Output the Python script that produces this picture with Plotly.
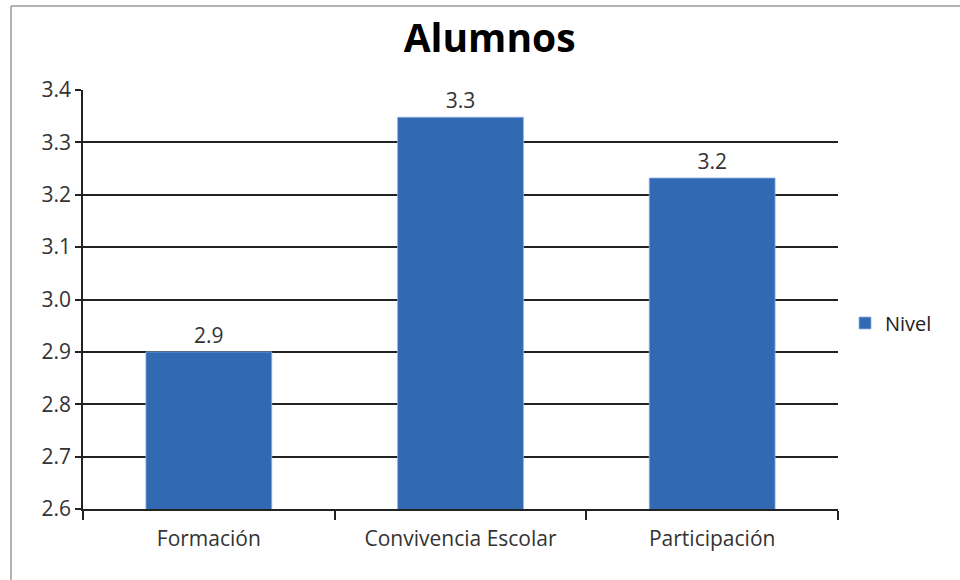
import plotly.graph_objects as go

categories = ["Formación", "Convivencia Escolar", "Participación"]
values = [2.9, 3.348, 3.232]
series_name = "Nivel"
title_text = "Alumnos"
y_ticks = [2.6, 2.7, 2.8, 2.9, 3.0, 3.1, 3.2, 3.3, 3.4]

L, R, T, B = 83, 838, 90, 509
W, H = 960, 580
FONT = "Open Sans, sans-serif"

fig = go.Figure()
fig.add_trace(go.Bar(
    x=categories, y=values, name=series_name,
    marker=dict(color="#3269b3", line=dict(color="#8fb3e6", width=0.8)),
    texttemplate="%{y:.1f}", textposition="outside", cliponaxis=False,
    textfont=dict(family=FONT, size=21, color="#333333"),
    showlegend=True,
))

def px2paper_x(px):
    return (px - L) / (R - L)

def px2paper_y(py):
    return (B - py) / (B - T)

# outer frame: only left and top edges visible in the view
fig.add_shape(type="line", xref="paper", yref="paper",
              x0=px2paper_x(11), x1=px2paper_x(11),
              y0=px2paper_y(585), y1=px2paper_y(6),
              line=dict(color="#9a9a9a", width=1.5), layer="below")
fig.add_shape(type="line", xref="paper", yref="paper",
              x0=px2paper_x(11), x1=px2paper_x(965),
              y0=px2paper_y(6), y1=px2paper_y(6),
              line=dict(color="#9a9a9a", width=1.5), layer="below")

fig.update_layout(
    width=W, height=H,
    margin=dict(l=L, r=W - R, t=T, b=H - B),
    paper_bgcolor="white", plot_bgcolor="white",
    title=dict(text="<b>" + title_text + "</b>", x=0.51, xanchor="center",
               y=1 - 38 / H, yanchor="middle",
               font=dict(family=FONT, size=39, color="black")),
    bargap=0.5,
    showlegend=True,
    legend=dict(x=px2paper_x(845), y=px2paper_y(323), xanchor="left", yanchor="middle",
                font=dict(family=FONT, size=20, color="#222222"),
                itemwidth=30),
    font=dict(family=FONT, size=21, color="#333333"),
)
fig.update_yaxes(range=[2.6, 3.4], tickvals=y_ticks, tickformat=".1f",
                 showgrid=True, gridcolor="#222222", gridwidth=1.5,
                 showline=True, linecolor="#222222", linewidth=1.5,
                 ticks="outside", ticklen=6, tickcolor="#222222", tickwidth=1.5,
                 tickfont=dict(size=21, color="#333333"), zeroline=False)
fig.update_xaxes(showline=True, linecolor="#222222", linewidth=1.5,
                 ticks="outside", ticklen=9, tickcolor="#222222", tickwidth=1.5,
                 tickson="boundaries", showgrid=False, ticklabelstandoff=10,
                 tickfont=dict(size=21, color="#333333"))

fig.write_html("out.html", post_script="document.body.style.margin='0';",
               config={"displayModeBar": False})
